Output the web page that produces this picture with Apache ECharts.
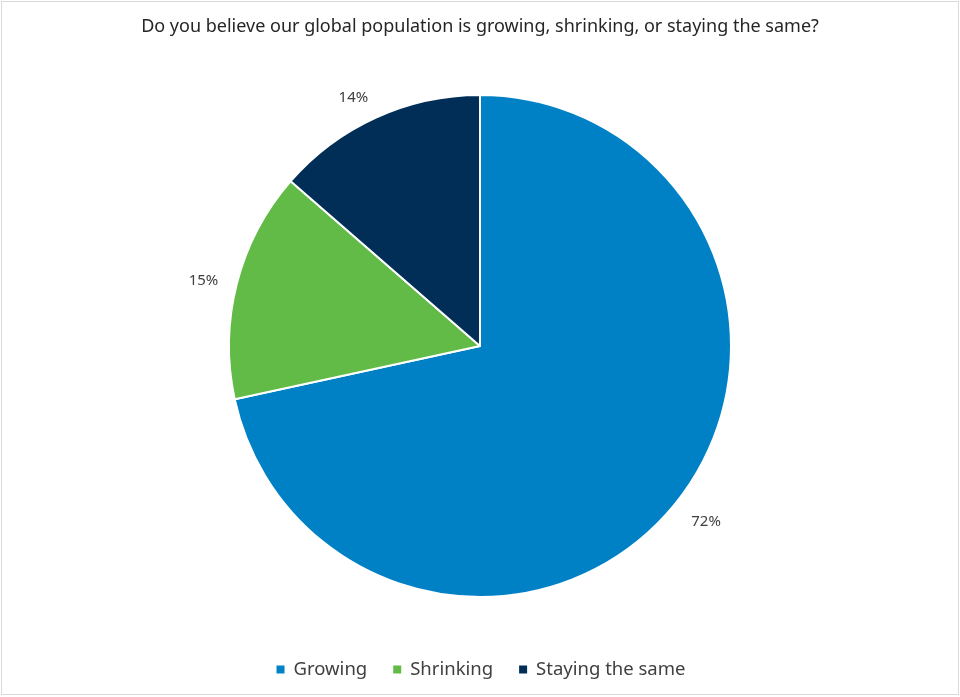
<!DOCTYPE html>
<html><head><meta charset="utf-8">
<script src="https://cdn.jsdelivr.net/npm/echarts@6/dist/echarts.min.js"></script>
<style>
html,body{margin:0;padding:0;background:#fff;}
#c{position:absolute;left:0;top:0;width:960px;height:697px;}
#frame{position:absolute;left:1px;top:1px;width:956px;height:692px;border:1px solid #d9d9d9;pointer-events:none;}
</style></head>
<body>
<div id="c"></div><div id="frame"></div>
<script>
const titleText = 'Do you believe our global population is growing, shrinking, or staying the same?';
const categories = ['Growing', 'Shrinking', 'Staying the same'];
const values = [71.6, 14.8, 13.6];
const colors = ['#0081C6', '#62BB47', '#002E57'];

const chart = echarts.init(document.getElementById('c'));
chart.setOption({
  animation: false,
  title: {
    text: titleText, left: 'center', top: 13,
    textStyle: {fontFamily: 'Noto Sans', fontSize: 18, fontWeight: 'normal', color: '#262626'}
  },
  legend: {
    bottom: 13, left: 'center', icon: 'rect', itemWidth: 10, itemHeight: 10, itemGap: 24,
    data: categories,
    textStyle: {fontFamily: 'Noto Sans', fontSize: 18.5, color: '#404040', padding: [0, 0, 0, 3]}
  },
  series: [{
    type: 'pie',
    center: [480, 346],
    radius: [0, 251],
    startAngle: 90,
    clockwise: true,
    data: categories.map((n, i) => ({name: n, value: values[i], itemStyle: {color: colors[i]}})),
    itemStyle: {borderColor: '#fff', borderWidth: 2},
    label: {
      show: true, position: 'outside',
      formatter: p => Math.round(p.value) + '%',
      fontFamily: 'Noto Sans', fontSize: 15, color: '#404040'
    },
    labelLine: {show: false, length: 14, length2: 0},
    labelLayout: p => (p.dataIndex === 0 ? {dy: 9} : p.dataIndex === 2 ? {dx: 3, dy: -7} : {dy: 1}),
    emphasis: {disabled: true}
  }]
});
</script>
</body></html>
